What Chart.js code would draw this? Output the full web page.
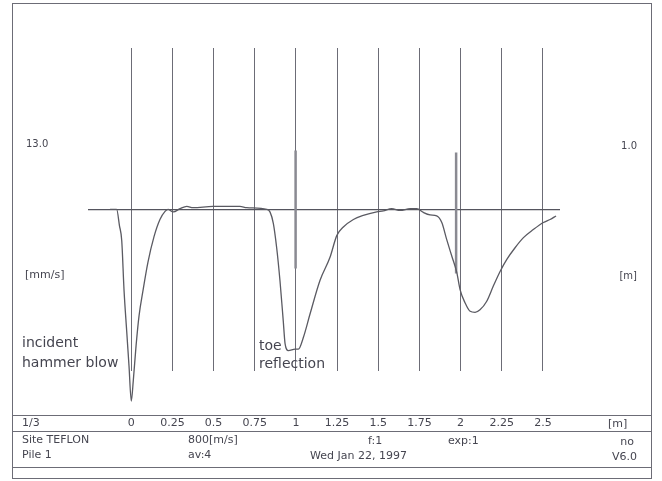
<!DOCTYPE html>
<html>
<head>
<meta charset="utf-8">
<script src="https://cdn.jsdelivr.net/npm/chart.js@4"></script>
<style>
html, body { margin: 0; padding: 0; background: #fff; }
</style>
</head>
<body>
<canvas id="pit" width="662" height="481"></canvas>
<script>
// pile integrity trace: distance [m] vs velocity (scaled units)
const distance = [-0.129, -0.089, -0.072, -0.058, -0.044, -0.028, -0.014, 0.000, 0.012, 0.029,
    0.047, 0.071, 0.101, 0.138, 0.174, 0.205, 0.223, 0.255, 0.296, 0.337,
    0.375, 0.496, 0.660, 0.701, 0.823, 0.843, 0.863, 0.883, 0.903, 0.923,
    0.934, 0.954, 0.995, 1.015, 1.045, 1.086, 1.146, 1.207, 1.248, 1.288,
    1.349, 1.409, 1.491, 1.531, 1.582, 1.633, 1.694, 1.734, 1.774, 1.815,
    1.855, 1.886, 1.916, 1.947, 1.977, 1.997, 2.027, 2.058, 2.088, 2.118,
    2.159, 2.199, 2.240, 2.281, 2.331, 2.382, 2.442, 2.503, 2.544, 2.580];
const velocity = [0, 0, -3.2, -6.2, -16.1, -24.1, -31.0, -38.0, -34.0, -27.0,
    -21.1, -16.1, -10.5, -5.4, -2.0, -0.4, 0, -0.5, 0.14, 0.6,
    0.34, 0.6, 0.6, 0.34, 0, -0.54, -2.8, -7.6, -14.1, -22.1,
    -26.6, -28.0, -27.7, -27.7, -25.4, -20.7, -14.1, -9.5, -5.2, -3.5,
    -2.0, -1.2, -0.5, -0.3, 0.15, -0.2, 0.15, 0.15, -0.6, -1.1,
    -1.3, -2.6, -6.0, -9.3, -12.5, -15.9, -18.5, -20.2, -20.4, -19.9,
    -18.2, -15.2, -12.3, -9.9, -7.6, -5.6, -4.0, -2.6, -2.0, -1.3];

const tickValues = [0, 0.25, 0.5, 0.75, 1, 1.25, 1.5, 1.75, 2, 2.25, 2.5];
const tickLabels = ['0', '0.25', '0.5', '0.75', '1', '1.25', '1.5', '1.75', '2', '2.25', '2.5'];

// toe markers
const markerDistance = [0.998, 1.973];
const markerTop = [11.7, 11.3];
const markerBottom = [-11.7, -12.7];

const xMin = -0.263, xMax = 2.604;
const yMin = -32, yMax = 32;

const font = '"DejaVu Sans", sans-serif';
const ink = '#454550';
const lineGray = '#6c6c76';

const trace = distance.map((d, i) => ({x: d, y: velocity[i]}));

const datasets = [{
    data: trace,
    borderColor: '#5a5a62',
    borderWidth: 1.3,
    pointRadius: 0,
    cubicInterpolationMode: 'monotone',
    clip: false
}];
markerDistance.forEach((d, i) => {
    datasets.push({
        data: [{x: d, y: markerTop[i]}, {x: d, y: markerBottom[i]}],
        borderColor: '#8a8a92',
        borderWidth: 2.5,
        pointRadius: 0
    });
});

function text(ctx, str, x, y, size, align) {
    ctx.font = size + 'px ' + font;
    ctx.textAlign = align || 'left';
    ctx.textBaseline = 'middle';
    ctx.fillText(str, x, y);
}

const framePlugin = {
    id: 'frame',
    afterDraw(chart) {
        const ctx = chart.ctx;
        ctx.save();
        ctx.strokeStyle = lineGray;
        ctx.lineWidth = 1;
        ctx.strokeRect(12.5, 3.5, 639, 475);
        [415.5, 431.5, 467.5].forEach(y => {
            ctx.beginPath();
            ctx.moveTo(12.5, y);
            ctx.lineTo(651.5, y);
            ctx.stroke();
        });
        ctx.fillStyle = ink;
        text(ctx, '13.0', 26, 144, 10);
        text(ctx, '[mm/s]', 25, 275, 11);
        text(ctx, '1.0', 637, 146, 10, 'right');
        text(ctx, '[m]', 637, 276, 10, 'right');

        text(ctx, 'incident', 22, 343, 14);
        text(ctx, 'hammer blow', 22, 363, 14);
        text(ctx, 'toe', 259, 346, 14);
        text(ctx, 'reflection', 259, 364, 14);

        text(ctx, '1/3', 22, 423, 11);
        text(ctx, '[m]', 608, 424, 11);
        text(ctx, 'Site TEFLON', 22, 440, 11);
        text(ctx, '800[m/s]', 188, 440, 11);
        text(ctx, 'f:1', 368, 441, 11);
        text(ctx, 'exp:1', 448, 441, 11);
        text(ctx, 'no', 634, 442, 11, 'right');
        text(ctx, 'Pile 1', 22, 455, 11);
        text(ctx, 'av:4', 188, 455, 11);
        text(ctx, 'Wed Jan 22, 1997', 310, 456, 11);
        text(ctx, 'V6.0', 637, 457, 11, 'right');
        ctx.restore();
    }
};

new Chart(document.getElementById('pit'), {
    type: 'line',
    data: { datasets: datasets },
    options: {
        responsive: false,
        animation: false,
        layout: { padding: { left: 88, right: 102, top: 48, bottom: 5 } },
        plugins: { legend: { display: false }, tooltip: { enabled: false } },
        scales: {
            x: {
                type: 'linear',
                min: xMin,
                max: xMax,
                afterBuildTicks: axis => { axis.ticks = tickValues.map(v => ({value: v})); },
                ticks: {
                    autoSkip: false,
                    maxRotation: 0,
                    padding: 46,
                    color: ink,
                    font: { family: font, size: 11 },
                    callback: (v, i) => tickLabels[i]
                },
                grid: { color: lineGray, lineWidth: 1, drawTicks: false },
                border: { display: false }
            },
            y: {
                type: 'linear',
                min: yMin,
                max: yMax,
                afterBuildTicks: axis => { axis.ticks = [{value: 0}]; },
                ticks: { display: false },
                grid: { color: '#55555e', lineWidth: 1.2, drawTicks: false },
                border: { display: false }
            }
        }
    },
    plugins: [framePlugin]
});
</script>
</body>
</html>
